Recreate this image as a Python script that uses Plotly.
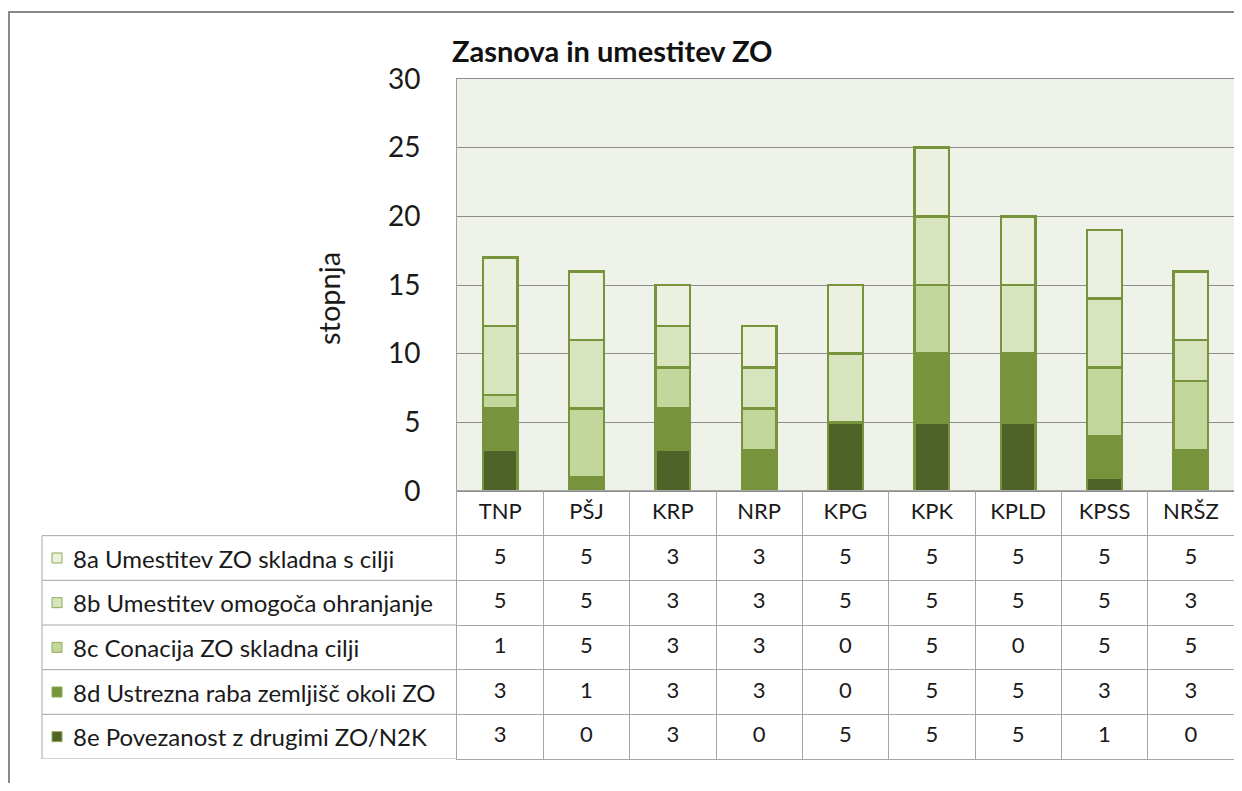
import plotly.graph_objects as go

# data
categories = ["TNP", "PŠJ", "KRP", "NRP", "KPG", "KPK", "KPLD", "KPSS", "NRŠZ"]
series_names = [
    "8a Umestitev ZO skladna s cilji",
    "8b Umestitev omogoča ohranjanje",
    "8c Conacija ZO skladna cilji",
    "8d Ustrezna raba zemljišč okoli ZO",
    "8e Povezanost z drugimi ZO/N2K",
]
v8a = [5, 5, 3, 3, 5, 5, 5, 5, 5]
v8b = [5, 5, 3, 3, 5, 5, 5, 5, 3]
v8c = [1, 5, 3, 3, 0, 5, 0, 5, 5]
v8d = [3, 1, 3, 3, 0, 5, 5, 3, 3]
v8e = [3, 0, 3, 0, 5, 5, 5, 1, 0]
series_values = [v8a, v8b, v8c, v8d, v8e]
y_ticks = [0, 5, 10, 15, 20, 25, 30]

colors = ["#EBF1DE", "#D7E4BD", "#C3D69B", "#77933C", "#4F6228"]
edge = "#77933C"
grid = "#8C8C8C"
cell_line = "#A6A6A6"
FONT = "Lato"
HEADER = "kat"

OFF = 8  # page body margin; positions below are in screen pixels
W, H = 1242 - 2 * OFF, 791 - 2 * OFF  # keep the page inside the window


def px(x):
    return (x - OFF) / W


def py(y):
    return 1 - (y - OFF) / H


fig = go.Figure()

# stacked bars, bottom series first
for name, vals, col in reversed(list(zip(series_names, series_values, colors))):
    fig.add_trace(go.Bar(
        x=categories, y=vals, name=name,
        marker=dict(color=col, line=dict(color=edge, width=2.5)),
        xaxis="x", yaxis="y", showlegend=False,
    ))

# data table below the bars: header row + one row per series
tx, ty, tt = [], [], []
for c in categories:
    tx.append(c)
    ty.append(HEADER)
    tt.append(c)
for name, vals in zip(series_names, series_values):
    for c, v in zip(categories, vals):
        tx.append(c)
        ty.append(name)
        tt.append(str(v))
fig.add_trace(go.Scatter(
    x=tx, y=ty, text=tt, mode="text",
    textfont=dict(family=FONT, size=22, color="#1a1a1a"),
    xaxis="x2", yaxis="y2", showlegend=False, hoverinfo="skip",
))

row_order = [HEADER] + series_names

shapes = [
    # plot area background
    dict(type="rect", xref="x domain", yref="y domain", x0=0, x1=1, y0=0, y1=1,
         fillcolor="#EEF2E8", line=dict(width=0), layer="below"),
    # outer frame of the picture
    dict(type="line", xref="paper", yref="paper", x0=px(8), x1=1, y0=py(12), y1=py(12),
         line=dict(color="#8a8a8a", width=2)),
    dict(type="line", xref="paper", yref="paper", x0=px(9), x1=px(9), y0=py(12), y1=0,
         line=dict(color="#8a8a8a", width=2)),
    # legend column, left border
    dict(type="line", xref="paper", yref="y2", x0=px(42), x1=px(42), y0=0.5, y1=len(row_order) - 0.5,
         line=dict(color=cell_line, width=1)),
]
for i in range(1, len(row_order) + 1):
    shapes.append(dict(type="line", xref="paper", yref="y2", x0=px(42), x1=px(457),
                       y0=i - 0.5, y1=i - 0.5, line=dict(color=cell_line, width=1)))

annotations = [
    dict(text="stopnja", xref="paper", yref="paper", x=px(328), y=py(299),
         xanchor="center", yanchor="middle",
         textangle=-90, showarrow=False, font=dict(family=FONT, size=29, color="#1a1a1a")),
]
for name, col in zip(series_names, colors):
    shapes.append(dict(type="rect", xref="paper", yref="y2", xsizemode="pixel", ysizemode="pixel",
                       xanchor=px(52), yanchor=name, x0=0, x1=10, y0=-5, y1=5,
                       fillcolor=col, line=dict(color="#8DAA54", width=1)))
    annotations.append(dict(text=name, xref="paper", yref="y2", x=px(71), y=name,
                            xanchor="left", showarrow=False,
                            font=dict(family=FONT, size=24, color="#1a1a1a")))

fig.update_layout(
    width=W, height=H,
    margin=dict(l=0, r=0, t=0, b=0, pad=0, autoexpand=False),
    paper_bgcolor="white", plot_bgcolor="white",
    barmode="stack", bargap=0.6,
    font=dict(family=FONT, color="#1a1a1a"),
    title=dict(text="<b>Zasnova in umestitev ZO</b>", x=px(452), xanchor="left",
               y=py(52), yanchor="middle", font=dict(family=FONT, size=29, color="#111")),
    xaxis=dict(domain=[px(457), 1], range=[-0.5, len(categories) - 0.5],
               showticklabels=False, showgrid=False, showline=True, mirror=True,
               linecolor=grid, linewidth=1, ticks="", fixedrange=True),
    yaxis=dict(domain=[py(491), py(79)], range=[0, 30], tickvals=y_ticks,
               showgrid=True, gridcolor=grid, gridwidth=1, showline=True, linecolor="#A0A0A0",
               ticks="", ticklabelstandoff=30, zeroline=False,
               tickfont=dict(family=FONT, size=28, color="#1a1a1a")),
    xaxis2=dict(domain=[px(457), 1], anchor="y2", range=[-0.5, len(categories) - 0.5],
                type="category", categoryorder="array", categoryarray=categories,
                tickson="boundaries", showgrid=True, gridcolor=cell_line, showticklabels=False,
                showline=True, mirror=True, linecolor=cell_line, ticks="", zeroline=False),
    yaxis2=dict(domain=[py(759), py(491)], anchor="x2", type="category",
                categoryorder="array", categoryarray=row_order,
                range=[len(row_order) - 0.5, -0.5],
                tickson="boundaries", showgrid=True, gridcolor=cell_line, showticklabels=False,
                showline=True, mirror=True, linecolor=cell_line, ticks="", zeroline=False),
    shapes=shapes,
    annotations=annotations,
)

fig.write_html("out.html", config={"displayModeBar": False})
